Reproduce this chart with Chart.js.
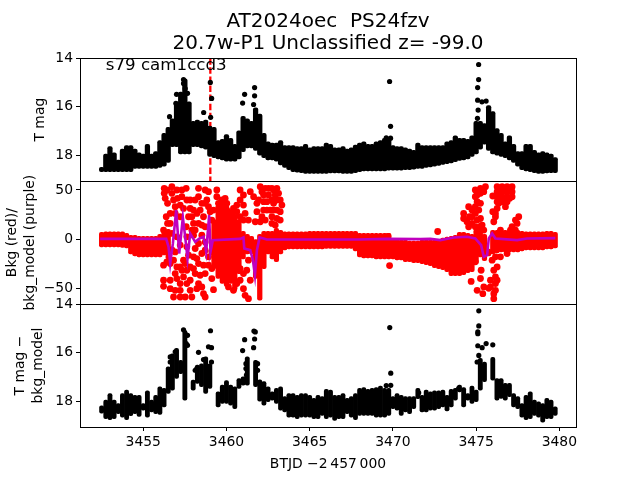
<!DOCTYPE html>
<html>
<head>
<meta charset="utf-8">
<style>
  html, body { margin: 0; padding: 0; background: #fff; }
</style>
<script src="https://cdn.jsdelivr.net/npm/chart.js@4"></script>
</head>
<body>
<canvas id="lc" width="640" height="480"></canvas>
<script>
// Columns of the light curve (BTJD - 2457000)
const days = [
  3452.5,3452.75,3453,3453.25,3453.5,3453.75,3454,3454.25,3454.5,3454.75,
  3455,3455.25,3455.5,3455.75,3456,3456.25,3456.5,3456.75,3457,3457.25,
  3457.5,3457.75,3458,3458.25,3458.5,3458.75,3459,3459.25,3459.5,3459.75,
  3460,3460.25,3460.5,3460.75,3461,3461.25,3461.5,3461.75,3462,3462.25,
  3462.5,3462.75,3463,3463.25,3463.5,3463.75,3464,3464.25,3464.5,3464.75,
  3465,3465.25,3465.5,3465.75,3466,3466.25,3466.5,3466.75,3467,3467.25,
  3467.5,3467.75,3468,3468.25,3468.5,3468.75,3469,3469.25,3469.5,3469.75,
  3470,3470.25,3470.5,3470.75,3471,3471.25,3471.5,3471.75,3472,3472.25,
  3472.5,3472.75,3473,3473.25,3473.5,3473.75,3474,3474.25,3474.5,3474.75,
  3475,3475.25,3475.5,3475.75,3476,3476.25,3476.5,3476.75,3477,3477.25,
  3477.5,3477.75,3478,3478.25,3478.5,3478.75,3479,3479.25,3479.5,3479.75
];

// Top panel, T mag
const magBright = [
  18.5,17.95,17.65,17.9,18.2,17.75,17.6,17.6,17.75,17.9,
  17.95,17.55,17.95,17.85,17.4,17.1,16.85,16.5,15.8,15.4,
  14.85,15.8,16.6,16.55,16.6,16.55,16.8,16.85,17.4,17.35,
  17.15,17.3,17.55,17.0,16.4,16.5,16.6,16.05,16.3,17.1,
  17.45,17.5,17.5,17.4,17.6,17.6,17.6,17.65,17.65,17.55,
  17.7,17.65,17.65,17.65,17.5,17.55,17.7,17.7,17.65,17.75,
  17.7,17.58,17.5,17.45,17.55,17.55,17.45,17.4,17.3,17.3,
  17.6,17.65,17.65,17.7,17.75,17.8,17.5,17.6,17.6,17.6,
  17.6,17.6,17.6,17.45,17.4,17.2,17.3,17.3,17.35,17.2,
  16.6,16.6,16.7,15.95,16.2,16.9,17.1,17.45,17.2,17.55,
  17.85,17.85,17.55,17.55,17.8,17.9,17.85,17.9,17.95,18.1
];
const magFaint = [
  18.68,18.68,18.68,18.68,18.68,18.68,18.68,18.68,18.55,18.55,
  18.55,18.55,18.55,18.55,18.5,18.45,18.3,17.65,17.65,17.95,
  17.95,17.95,17.65,17.65,17.7,17.75,18.05,18.1,18.15,18.2,
  18.25,18.25,18.25,18.15,17.85,17.7,17.7,17.8,18.0,18.1,
  18.2,18.2,18.25,18.4,18.5,18.6,18.68,18.7,18.72,18.75,
  18.75,18.75,18.75,18.75,18.75,18.73,18.73,18.73,18.75,18.75,
  18.75,18.72,18.68,18.65,18.65,18.65,18.65,18.65,18.65,18.62,
  18.62,18.62,18.62,18.6,18.6,18.58,18.55,18.55,18.5,18.48,
  18.45,18.42,18.38,18.35,18.32,18.27,18.22,18.2,18.15,18.05,
  17.95,17.75,17.55,17.8,17.95,18.0,18.05,18.1,18.2,18.3,
  18.45,18.6,18.65,18.68,18.72,18.75,18.75,18.73,18.72,18.72
];
const magDotDays = [3456.58,3457,3456.96,3457.42,3457.42,3457.52,3457.66,3458.63,3459.03,3459.11,3459.05,3461.09,3460.97,3461.69,3461.69,3461.63,3469.8,3469.86,3469.6,3469.86,3475.15,3475.15,3475.09,3475.09,3475.35,3475.6,3475.08,3475.12];
const magDotVals = [16.41,15.49,15.86,14.88,15.04,15.25,15.45,16.24,15.0,15.66,16.44,15.49,15.85,15.21,15.55,15.91,14.96,16.81,17.29,17.3,14.26,14.88,15.21,15.73,15.8,15.77,16.48,16.14];

// Middle panel, background
const bkgUpper = [
  7,7.5,7.5,7.5,7.5,7.5,6,4,4,3,
  3,3,3,3,5,8,10,null,null,null,
  null,null,null,null,null,null,null,20,35,42,
  35,30,25,20,8,5,3,0,5,8,
  8,8,10.9,9,7.5,7.5,7.5,7.5,7.5,7.5,
  8,8,8,8,8,8,8,8,8,8,
  8,8,5.8,5.8,5.8,5.8,5.8,5.8,5.8,5.8,
  0.3,0,-1,-1,-2,-2,-2,-1,-1,-1,
  -1,0,1,2,3,4,7,7,6,5,
  10,16,5,-10,9,9,9,9,9,9,
  9,8,7.5,7.5,7.5,7.5,7.5,8,8,7
];
const bkgLower = [
  -8,-8,-8,-8,-8,-8.5,-9,-15,-17,-18,
  -18,-18,-18,-18,-18,-16,-20,null,null,null,
  null,null,null,null,null,null,null,-30,-40,-45,
  -48,-45,-52,-35,-20,-15,-15,-40,-62,-30,
  -15,-20,-23,-15,-11,-10,-10,-10,-10,-10,
  -10,-10,-10,-10,-9.5,-9.5,-9.5,-9.5,-9.5,-9.5,
  -9.5,-12,-18,-19,-19,-19,-20,-20,-20,-20,
  -20,-21,-21,-23,-23,-24,-24,-25,-26,-27,
  -29,-30,-31,-33,-37,-37,-37,-36,-34,-33,
  -25,-18,-22,-17,-15,-14,-13,-13,-13,-13,
  -13,-12,-11,-11,-11,-11,-11,-10,-10,-9
];
const bkgDotDays = [
  3456.26,3456.26,3456.32,3456.72,3456.72,3456.82,3457.32,3457.58,3457.32,3457.82,
  3458.32,3458.72,3458.32,3458.92,3458.52,3458.72,3459.42,3459.42,3459.52,3459.22,
  3459.92,3460.02,3460.82,3461.02,3461.43,3460.82,3461.02,3461.12,3461.63,3461.83,
  3462.03,3462.33,3462.73,3463.03,3462.23,3462.53,3462.93,3463.23,3462.43,3462.83,
  3463.33,3462.23,3462.63,3463.03,3462.13,3462.73,3463.23,3461.32,3461.73,3462.93,
  3456.62,3456.62,3456.22,3457.42,3457.82,3458.02,3458.22,3458.62,3457.92,3457.22,
  3456.92,3458.72,3459.02,3459.12,3456.72,3457.62,3458.12,3458.72,3458.92,3458.02,
  3457.42,3457.72,3458.32,3458.52,3457.02,3457.22,3457.62,3458.02,3458.52,3458.72,
  3456.92,3456.72,
  3456.22,3457.02,3456.62,3456.92,3457.52,3458.02,3458.62,3458.72,3458.12,3459.12,
  3459.12,3457.42,3456.22,3456.22,3456.62,3456.62,3457.22,3456.82,3457.22,3457.62,
  3457.82,3458.32,3458.52,3458.72,3457.52,3457.92,3459.22,3461.02,3461.12,3461.32,
  3460.82,3460.42,3460.02,3460.72,
  3474.95,3474.95,3475.26,3475.56,3475.26,3475.46,3475.06,3474.55,3474.25,3474.25,
  3474.75,3474.95,3475.06,3475.36,3475.26,3475.46,3474.6,3474.55,3474.75,3474.95,
  3476.26,3476.26,3476.26,3476.26,3476.56,3476.56,3476.56,3476.56,3476.86,3476.86,
  3476.86,3476.86,3477.16,3477.16,3477.16,3476.26,3476.76,3476,3476,3476.16,
  3476.06,3477.56,3477.36,3477.16,3477.06,3476.46,
  3476.06,3476.16,3476.16,3476.16,3476.06,3475.86,3475.46,3475.4,3475.06,3474.7,
  3475.26,3475.3,3474.95,3475.96,3476.16,3476.46,3476.86,3475.76,3476.06,3476.26,
  3472.69,3469.8,3469.7,
  3456.42,3456.46,3457.02,3457.06,3456.92,3456.46,3456.38,3457.22,3457.62,3457.72,
  3457.58,3458.12,3458.02,3458.42,3458.82,3458.92,3458.32,3458.52,3458.12,3457.92,
  3456.42,3456.82,3457.22,3457.62,3457.02,3457.32,3457.82,3458.32,3458.22,3458.92,
  3458.42,3457.82,3456.92,3458.22,3458.62,3457.22,3459.12,
  3459.72,3460.02,3460.32,3460.62,3460.82,3461.02,3460.62,3460.42,
  3460.12,3460.62,3461.02,3461.22,3461.32,3461.43,3460.82,
  3461.93,3462.23,3462.53,3462.73,3463.03,3462.43,3462.83,3463.23,3463.03,3462.33,
  3462.73,3462.03,3461.83,3463.13,3462.83,3462.13,
  3475.06,3474.75,3474.45,3475.16,3474.95,3475.26,3475.06,3476.42,3476.72,3477.02,
  3476.42,3476.72,3477.02,3476.36,3476.16,3477.36,3477.46,3475.86,3476.26
];
const bkgDotVals = [
  51.7,46.6,41.5,53.4,46.6,39.8,50,51.7,43.2,39.8,
  51.7,50,43.2,48.3,36.4,36.4,50,43.2,36.4,29.6,
  41.5,36.4,50,44.9,48.3,39.8,34.7,26.2,43.2,36.4,
  53.4,51.7,51.7,51.7,44.9,44.9,44.9,39.8,38.1,36.4,
  34.7,29.6,29.6,29.6,22.8,22.8,19.4,19.4,17.7,14.3,
  26.2,16,9.2,31.3,31.3,16,26.2,22.8,22.8,22.8,
  33,12.6,27.9,19.4,5.8,-7.8,-9.5,-11.2,-18,-18,
  -21.4,-16.3,-4.4,-14.6,2.4,-6,2.4,4,4,-3,
  -13,-11,
  -26.5,-28.2,-24.8,-35,-24.8,-29.9,-26.5,-35,-35,-29.9,
  -40.1,-38.4,-41.8,-48,-41.8,-50.3,-45.2,-58.8,-52,-45.2,
  -41.8,-45.2,-48.6,-58.8,-58.8,-58.8,-51.4,-50.3,-57.1,-60.5,
  -41.8,-52,-41.8,-29.9,
  50,43.2,51.7,53.4,46.6,48.3,38.1,33,26.2,21,
  29.6,26.2,19.4,14.3,36.4,9.2,22.8,12.6,16,12.6,
  53.4,48.3,43.2,38.1,53.4,48.3,43.2,38.1,53.4,48.3,
  43.2,38.1,53.4,48.3,43.2,31.3,33,43.9,27.9,22.8,
  17.7,22.8,19.4,12.6,9.2,9.2,
  -31.6,-38.4,-45.2,-52,-60.5,-48.6,-48.6,-55.4,-52,-43,
  -40,-31.6,-23,-21.4,-18,-18,-14.6,-50,-55.4,-41.8,
  7.8,-26.9,2.9,
  50,36.4,50,41.5,26.2,16,22.8,34.7,39.8,22.8,
  12.6,39.8,29.6,29.6,39.8,33,16,14.3,9.2,9.2,
  -23,-21.4,-28.2,-31.6,-40.1,-31.6,-28.2,-24.8,-19.7,-26.5,
  -36.7,-52,-52,-50.3,-55.4,-58.8,-12.9,
  39.8,29.6,26.2,27.9,22.8,19.4,34.7,31.3,
  -48.6,-45.2,-35,-31.6,-21.4,-41.8,-29.9,
  39.8,38.1,51.7,39.8,39.8,29.6,29.6,27.9,21,19.4,
  16,17.7,27.9,46.6,50,48.3,
  44.9,22.8,17.7,29.6,33,21,7.5,51.7,50,51.7,
  43.2,41.5,41.5,36.4,26.2,9.2,16,-41.8,-28.2
];
const modelDays = [3452.41,3456.38,3456.52,3456.62,3456.78,3456.98,3457.16,3457.38,3457.52,3457.66,3457.82,3458.12,3458.38,3458.62,3458.78,3458.96,3459.04,3459.18,3460.82,3461.02,3461.07,3461.43,3461.59,3461.71,3461.83,3461.99,3462.43,3467.94,3469.65,3471.65,3472.25,3472.85,3473.65,3474.45,3474.95,3475.3,3475.46,3475.66,3475.76,3475.96,3476.16,3477.46,3478.06,3479.76];
const modelVals = [0.3,0.3,-7.8,-24.8,-4.4,29.6,-14.6,22.1,2.4,-19.7,5.8,-2.7,0.7,2.4,-12.9,24.5,-12.9,-1,0.3,1.7,-9.5,-11.2,-21.4,-36.7,-11.2,1.7,-0.3,-0.3,0.3,0,0.3,-1,1.7,2.4,0.7,-6.1,-18,-16.3,0.7,5.8,0.7,-1,0.7,1];

// Bottom panel, T mag - bkg_model
const corrBright = [
  18.2,17.96,17.69,17.96,18.1,17.69,17.55,17.69,17.76,17.76,
  18.1,17.58,17.96,17.76,17.41,17.48,16.59,16.05,15.83,16.32,
  15.08,null,17.14,16.52,16.46,16.18,16.46,null,17.62,17.34,
  17.16,17.34,17.41,17.07,17.0,16.18,null,16.32,17.12,17.2,
  17.41,17.62,17.48,17.41,17.82,17.69,17.69,17.76,17.69,17.69,
  17.76,17.89,17.76,17.82,17.52,17.55,17.76,17.76,17.69,17.89,
  17.82,17.69,17.48,17.44,17.52,17.48,17.44,17.38,17.48,17.48,
  17.82,17.69,17.76,17.82,17.82,17.82,17.48,17.76,17.55,17.62,
  17.58,17.58,17.55,17.76,17.52,17.48,17.34,17.44,17.69,17.38,
  17.55,16.24,16.39,null,16.2,17.07,17.07,17.27,17.27,17.69,
  17.82,18.1,17.76,17.62,17.96,18.03,18.1,17.89,17.96,18.24
];
const corrFaint = [
  18.5,18.73,18.77,18.73,18.52,18.66,18.77,18.6,18.52,18.63,
  18.38,18.66,18.45,18.52,18.55,18.24,17.69,17.55,17.07,16.87,
  17.96,null,17.55,17.27,17.41,17.69,17.48,null,18.24,18.1,
  18.1,18.17,18.31,17.48,17.34,17.34,null,17.41,18.0,18.17,
  18.03,17.96,18.1,18.38,18.45,18.66,18.66,18.73,18.66,18.66,
  18.66,18.73,18.73,18.59,18.73,18.66,18.8,18.73,18.73,18.52,
  18.66,18.77,18.59,18.59,18.59,18.59,18.66,18.66,18.66,18.59,
  18.31,18.38,18.59,18.45,18.52,18.31,17.9,18.45,18.45,18.38,
  18.38,18.31,18.24,18.41,18.24,17.96,17.62,18.24,17.96,18.1,
  18.03,17.55,17.2,null,17.14,17.96,17.89,17.96,17.82,18.24,
  18.31,18.66,18.77,18.73,18.59,18.66,18.87,18.73,18.73,18.59
];
const corrDotDays = [3457.42,3457.58,3457.66,3457.58,3457.66,3458.32,3458.62,3459.04,3458.92,3459.1,3459.1,3461.09,3460.97,3461.17,3461.65,3461.69,3461.63,3461.73,3461.87,3456.62,3456.62,3456.92,3458.12,3458.22,3461.2,3461.17,3461.87,3469.81,3469.87,3469.6,3469.87,3475.16,3475.16,3475.1,3475.1,3475.1,3475.36,3475.6,3476,3475.16,3475.06,3473.95,3471.55];
const corrDotVals = [15.06,15.27,15.29,15.63,15.7,15.99,16.29,15.1,15.76,15.8,16.39,15.47,15.92,16.46,15.11,15.44,15.8,15.15,16.46,16.18,16.39,15.97,16.73,16.66,16.93,16.66,16.73,14.97,16.85,17.36,17.35,14.28,14.9,15.15,15.22,15.72,15.8,15.63,15.68,16.12,16.39,17.48,17.66];

// Epoch marker
const markerDays = [3459.03,3459.03];
const markerMags = [14,19.07];

// Ticks and labels
const dayTicks = [3455,3460,3465,3470,3475,3480];
const magTicks = [14,16,18];
const bkgTicks = [-50,0,50];
const titleLines = ['AT2024oec  PS24fzv','20.7w-P1 Unclassified z= -99.0'];
const sectorLabel = 's79 cam1ccd3';

const FONT = 'DejaVu Sans';
Chart.defaults.font.family = FONT;
Chart.defaults.font.size = 13.9;
Chart.defaults.color = '#000';

function columns(lows, highs) {
    const out = [];
    days.forEach((d, i) => {
        if (lows[i] !== null) out.push({ x: d, y: [lows[i], highs[i]] });
    });
    return out;
}

function points(xs, ys) {
    return xs.map((x, i) => ({ x: x, y: ys[i] }));
}

function barSet(data, axis, color, width, order) {
    return {
        type: 'bar', data: data, yAxisID: axis, backgroundColor: color, barThickness: width,
        grouped: false, borderRadius: 2, borderSkipped: false, order: order
    };
}

function dotSet(data, axis, color, radius, order) {
    return { type: 'scatter', data: data, yAxisID: axis, backgroundColor: color, borderColor: color, pointRadius: radius, pointBorderWidth: 0, order: order };
}

function yScale(weight, min, max, reverse, ticks, title, pad) {
    return {
        type: 'linear', position: 'left', stack: 'panels', stackWeight: 1, weight: weight,
        min: min, max: max, reverse: reverse,
        afterBuildTicks: scale => { scale.ticks = ticks.map(v => ({ value: v })); },
        afterFit: scale => { scale.width = 80; },
        ticks: { padding: 3, color: '#000', autoSkip: false, maxRotation: 0, callback: v => String(v).replace('-', '\u2212') },
        grid: { drawOnChartArea: false, tickLength: 4, tickColor: '#000' },
        border: { color: '#000', width: 1 },
        title: { display: true, text: title, padding: { top: pad, bottom: 0 }, font: { size: 13.9, lineHeight: 1.3 }, color: '#000' }
    };
}

// Frames around the three panels and the sector text inside the top one
const framePlugin = {
    id: 'frames',
    afterDatasetsDraw(chart) {
        const ctx = chart.ctx;
        const area = chart.chartArea;
        ctx.save();
        ctx.strokeStyle = '#000';
        ctx.lineWidth = 1;
        ['yMag', 'yBkg', 'yCorr'].forEach(id => {
            const s = chart.scales[id];
            ctx.strokeRect(Math.round(area.left) + 0.5, Math.round(s.top) + 0.5, Math.round(area.width), Math.round(s.height));
        });
        ctx.fillStyle = '#000';
        ctx.font = '16.67px "' + FONT + '"';
        ctx.textBaseline = 'alphabetic';
        ctx.fillText(sectorLabel, chart.scales.x.getPixelForValue(3452.75), chart.scales.yMag.getPixelForValue(14.47));
        ctx.restore();
    }
};

new Chart(document.getElementById('lc').getContext('2d'), {
    data: {
        datasets: [
            {
                type: 'line', data: points(markerDays, markerMags), yAxisID: 'yMag',
                borderColor: '#f00', borderWidth: 2.3, borderDash: [6.5, 2.6], pointRadius: 0, order: 6
            },
            barSet(columns(magBright, magFaint), 'yMag', '#000', 4.6, 5),
            dotSet(points(magDotDays, magDotVals), 'yMag', '#000', 2.6, 4),
            barSet(columns(bkgLower, bkgUpper), 'yBkg', '#f00', 4.6, 5),
            dotSet(points(bkgDotDays, bkgDotVals), 'yBkg', '#f00', 3.4, 4),
            {
                type: 'line', data: points(modelDays, modelVals), yAxisID: 'yBkg',
                borderColor: '#bf00bf', borderWidth: 2.6, pointRadius: 0, tension: 0, order: 1
            },
            barSet(columns(corrBright, corrFaint), 'yCorr', '#000', 4.2, 5),
            dotSet(points(corrDotDays, corrDotVals), 'yCorr', '#000', 2.6, 4)
        ]
    },
    options: {
        responsive: false,
        animation: false,
        events: [],
        layout: { padding: { left: 0, right: 64, top: 0, bottom: 0 } },
        plugins: {
            legend: { display: false },
            tooltip: { enabled: false },
            title: {
                display: true, text: titleLines, color: '#000', fullSize: false,
                font: { size: 20, weight: 'normal', lineHeight: 1.08 },
                padding: { top: 11, bottom: 4 }
            }
        },
        scales: {
            x: {
                type: 'linear', min: 3451.2, max: 3481, offset: false,
                afterBuildTicks: scale => { scale.ticks = dayTicks.map(v => ({ value: v })); },
                afterFit: scale => { scale.height = 53; },
                ticks: { callback: v => String(v), padding: 3, color: '#000', maxRotation: 0 },
                grid: { drawOnChartArea: false, offset: false, tickLength: 4, tickColor: '#000' },
                border: { color: '#000', width: 1 },
                title: { display: true, text: 'BTJD \u22122\u2009457\u2009000', color: '#000', padding: { top: 2, bottom: 7 }, font: { size: 13.9 } }
            },
            yMag: yScale(3, 14, 19.07, true, magTicks, 'T mag', 31),
            yBkg: yScale(2, -66, 59, false, bkgTicks, ['Bkg (red)/', 'bkg_model (purple)'], 3),
            yCorr: yScale(1, 14, 19.07, true, magTicks, ['T mag \u2212', 'bkg_model'], 11)
        }
    },
    plugins: [framePlugin]
});
</script>
</body>
</html>
